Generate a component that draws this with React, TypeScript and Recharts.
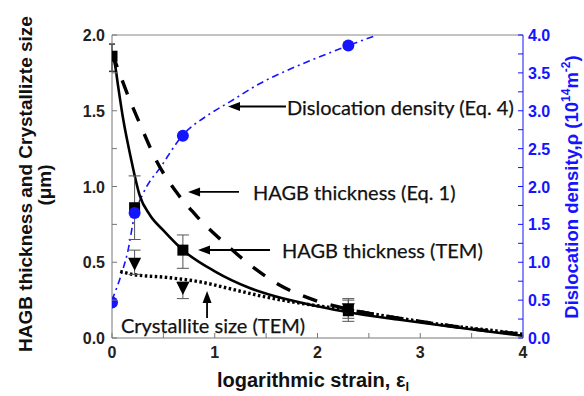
import React from 'react';
import {
  ComposedChart, Line, Scatter, XAxis, YAxis, ErrorBar, ReferenceLine,
} from 'recharts';

// ---- data ----
const fitX = [0, 0.03, 0.06, 0.11, 0.18, 0.27, 0.37, 0.5, 0.69, 1.0, 1.34, 1.67, 2.0, 2.3, 2.8, 3.3, 3.7, 4.0];
const fitY = [1.88, 1.8, 1.66, 1.44, 1.2, 0.94, 0.81, 0.71, 0.58, 0.44, 0.33, 0.26, 0.21, 0.17, 0.12, 0.075, 0.04, 0.015];

const eq1X = [0, 0.05, 0.15, 0.28, 0.44, 0.63, 0.83, 1.09, 1.33, 1.63, 1.97, 2.3, 2.7, 3.1, 3.5, 4.0];
const eq1Y = [1.88, 1.79, 1.61, 1.4, 1.16, 0.96, 0.8, 0.63, 0.49, 0.35, 0.25, 0.19, 0.14, 0.1, 0.06, 0.025];

const crysX = [0.08, 0.2, 0.53, 0.86, 1.18, 1.5, 1.83, 2.3, 2.8, 3.3, 3.7, 4.0];
const crysY = [0.44, 0.42, 0.4, 0.37, 0.32, 0.27, 0.23, 0.185, 0.13, 0.08, 0.05, 0.025];

const rhoX = [0, 0.1, 0.15, 0.22, 0.3, 0.48, 0.69, 0.92, 1.15, 1.44, 1.7, 2.0, 2.3, 2.58];
const rhoY = [0.5, 0.88, 1.12, 1.62, 1.9, 2.27, 2.68, 2.93, 3.12, 3.36, 3.53, 3.7, 3.86, 4.0];

const temX = [0, 0.22, 0.69, 2.3];
const temY = [1.86, 0.86, 0.58, 0.18];
const temLow = [1.76, 0.65, 0.46, 0.11];
const temHigh = [1.94, 1.07, 0.68, 0.26];

const triX = [0.22, 0.69, 2.3];
const triY = [0.49, 0.33, 0.19];
const triLow = [0.42, 0.26, 0.13];
const triHigh = [0.58, 0.37, 0.25];

const dotX = [0, 0.22, 0.69, 2.3];
const dotY = [0.47, 1.65, 2.67, 3.86];

const xTicks = [0, 0.5, 1, 1.5, 2, 2.5, 3, 3.5, 4];
const leftTicks = [0, 0.25, 0.5, 0.75, 1, 1.25, 1.5, 1.75, 2];
const rightTicks = [0, 0.25, 0.5, 0.75, 1, 1.25, 1.5, 1.75, 2, 2.25, 2.5, 2.75, 3, 3.25, 3.5, 3.75, 4];

// annotations: [tipX, tipY, tailX, tailY, text, placement, gap]
const notes: [number, number, number, number, string, string, number][] = [
  [1.129, 1.528, 1.693, 1.528, 'Dislocation density (Eq. 4)', 'right', 1],
  [0.74, 0.964, 1.236, 0.964, 'HAGB thickness (Eq. 1)', 'right', 14],
  [0.837, 0.581, 1.538, 0.581, 'HAGB thickness (TEM)', 'right', 12],
  [0.925, 0.31, 0.925, 0.132, 'Crystallite size (TEM)', 'below', 0],
];

const zip = (xs: number[], ys: number[]) => xs.map((x, i) => ({ x, y: ys[i] }));
const fitData = zip(fitX, fitY);
const eq1Data = zip(eq1X, eq1Y);
const crysData = zip(crysX, crysY);
const rhoData = zip(rhoX, rhoY);
const temData = temX.map((x, i) => ({ x, y: temY[i], err: [temY[i] - temLow[i], temHigh[i] - temY[i]] }));
const triData = triX.map((x, i) => ({ x, y: triY[i], err: [triY[i] - triLow[i], triHigh[i] - triY[i]] }));
const dotData = zip(dotX, dotY);

// markers sitting on the left axis are cut by the plot edge in the reference
const onEdge = (d: { x: number }) => d.x <= 0;
const temEdge = temData.filter(onEdge);
const temIn = temData.filter((d) => !onEdge(d));
const dotEdge = dotData.filter(onEdge);
const dotIn = dotData.filter((d) => !onEdge(d));

const TF = 'Liberation Sans, Arial, sans-serif';
const NF = "Lato, 'Open Sans', sans-serif";
const BLUE = '#1414ff';
const AXIS = '#777';

const XTick = (p: any) => {
  const { x, y, payload } = p;
  const v = payload.value;
  return (
    <g>
      <line x1={x} x2={x} y1={y} y2={y - 5} stroke={AXIS} />
      {Number.isInteger(v) && (
        <text x={x} y={y + 20} textAnchor="middle" fontFamily={TF} fontWeight="bold" fontSize={16} fill="#222">{v}</text>
      )}
    </g>
  );
};
const LTick = (p: any) => {
  const { x, y, payload } = p;
  const v = payload.value;
  const major = Math.abs(v * 2 - Math.round(v * 2)) < 1e-6;
  return (
    <g>
      <line x1={x} x2={x + 5} y1={y} y2={y} stroke={AXIS} />
      {major && (
        <text x={x - 7} y={y + 6} textAnchor="end" fontFamily={TF} fontWeight="bold" fontSize={16} fill="#222">{v.toFixed(1)}</text>
      )}
    </g>
  );
};
const RTick = (p: any) => {
  const { x, y, payload } = p;
  const v = payload.value;
  const major = Math.abs(v * 2 - Math.round(v * 2)) < 1e-6;
  return (
    <g>
      <line x1={x} x2={x - 5} y1={y} y2={y} stroke={BLUE} />
      {major && (
        <text x={x + 5} y={y + 6} textAnchor="start" fontFamily={TF} fontWeight="bold" fontSize={16} fill={BLUE}>{v.toFixed(1)}</text>
      )}
    </g>
  );
};

const Square = (p: any) => <rect x={p.cx - 5.5} y={p.cy - 5.5} width={11} height={11} fill="#000" />;
const HalfSquare = (p: any) => <rect x={p.cx} y={p.cy - 5.5} width={5.5} height={11} fill="#000" />;
const TriDown = (p: any) => (
  <polygon points={`${p.cx - 6.5},${p.cy - 6} ${p.cx + 6.5},${p.cy - 6} ${p.cx},${p.cy + 7}`} fill="#000" />
);
const Dot = (p: any) => <circle cx={p.cx} cy={p.cy} r={6} fill={BLUE} />;
const HalfDot = (p: any) => <path d={`M${p.cx},${p.cy - 6} A6,6 0 0 1 ${p.cx},${p.cy + 6} Z`} fill={BLUE} />;

const arrowShape = (text: string, mode: string, gap: number) => (p: any) => {
  const { x1, y1, x2, y2 } = p;
  const dx = x1 - x2;
  const dy = y1 - y2;
  const len = Math.sqrt(dx * dx + dy * dy) || 1;
  const ux = dx / len;
  const uy = dy / len;
  const hl = 12;
  const hw = 4.5;
  const bx = x1 - ux * hl;
  const by = y1 - uy * hl;
  const tx = mode === 'below' ? x2 + 6 : x2 + gap;
  const ty = mode === 'below' ? y2 + 15 : y2 + 8.5;
  return (
    <g>
      <line x1={x2} y1={y2} x2={bx} y2={by} stroke="#000" strokeWidth={1.8} />
      <polygon points={`${x1},${y1} ${bx - uy * hw},${by + ux * hw} ${bx + uy * hw},${by - ux * hw}`} fill="#000" />
      <text x={tx} y={ty} textAnchor={mode === 'below' ? 'middle' : 'start'} fontFamily={NF} fontSize={20} fill="#111" stroke="#111" strokeWidth={0.25}>{text}</text>
    </g>
  );
};

export default function App() {
  return (
    <div style={{ position: 'absolute', left: 0, top: 0, width: 584, height: 396, background: '#fff', overflow: 'hidden' }}>
      <ComposedChart width={584} height={396} margin={{ top: 35, right: 0, bottom: 0, left: 0 }}>
        <XAxis dataKey="x" type="number" domain={[0, 4]} ticks={xTicks} allowDataOverflow
          height={58} tickSize={0} tickMargin={0} tickLine={false} tick={<XTick />} axisLine={{ stroke: AXIS }} interval={0} />
        <YAxis yAxisId="left" dataKey="y" type="number" domain={[0, 2]} ticks={leftTicks} allowDataOverflow
          width={112} tickSize={0} tickMargin={0} tickLine={false} tick={<LTick />} axisLine={{ stroke: AXIS }} interval={0} />
        <YAxis yAxisId="right" orientation="right" dataKey="y" type="number" domain={[0, 4]} ticks={rightTicks} allowDataOverflow
          width={61} tickSize={0} tickMargin={0} tickLine={false} tick={<RTick />} axisLine={{ stroke: BLUE }} interval={0} />
        <ReferenceLine yAxisId="left" y={2} stroke="#888" />

        <Line yAxisId="right" data={rhoData} dataKey="y" type="monotone" stroke={BLUE} strokeWidth={1.6}
          strokeDasharray="7 4 2 4" dot={false} isAnimationActive={false} />
        <Line yAxisId="left" data={eq1Data} dataKey="y" type="monotone" stroke="#000" strokeWidth={3.4}
          strokeDasharray="15 14" dot={false} isAnimationActive={false} />
        <Line yAxisId="left" data={crysData} dataKey="y" type="monotone" stroke="#000" strokeWidth={3.4}
          strokeDasharray="2.5 2.5" dot={false} isAnimationActive={false} />
        <Line yAxisId="left" data={fitData} dataKey="y" type="monotone" stroke="#000" strokeWidth={2.6}
          dot={false} isAnimationActive={false} />

        <Scatter yAxisId="left" data={temIn} dataKey="y" shape={Square} isAnimationActive={false}>
          <ErrorBar dataKey="err" direction="y" width={6} stroke="#555" strokeWidth={1} isAnimationActive={false} />
        </Scatter>
        <Scatter yAxisId="left" data={temEdge} dataKey="y" shape={HalfSquare} isAnimationActive={false}>
          <ErrorBar dataKey="err" direction="y" width={3} stroke="#333" strokeWidth={1.5} isAnimationActive={false} />
        </Scatter>
        <Scatter yAxisId="left" data={triData} dataKey="y" shape={TriDown} isAnimationActive={false}>
          <ErrorBar dataKey="err" direction="y" width={6} stroke="#555" strokeWidth={1} isAnimationActive={false} />
        </Scatter>
        <Scatter yAxisId="right" data={dotIn} dataKey="y" shape={Dot} isAnimationActive={false} />
        <Scatter yAxisId="right" data={dotEdge} dataKey="y" shape={HalfDot} isAnimationActive={false} />

        {notes.map((n, i) => (
          <ReferenceLine key={i} yAxisId="left" segment={[{ x: n[0], y: n[1] }, { x: n[2], y: n[3] }]}
            shape={arrowShape(n[4], n[5], n[6])} ifOverflow="visible" />
        ))}
      </ComposedChart>
      <svg width={584} height={396} style={{ position: 'absolute', left: 0, top: 0, pointerEvents: 'none' }}>
        <text transform="translate(32,184) rotate(-90)" textAnchor="middle" fontFamily={TF} fontWeight="bold" fontSize={19} fill="#111">
          HAGB thickness and Crystallizte size
        </text>
        <text transform="translate(51,185) rotate(-90)" textAnchor="middle" fontFamily={TF} fontWeight="bold" fontSize={19} fill="#111">
          (μm)
        </text>
        <text x={217} y={387} fontFamily={TF} fontWeight="bold" fontSize={20} fill="#111">
          logarithmic strain, ε<tspan fontSize={13} dy={4}>l</tspan>
        </text>
        <text transform="translate(578,187) rotate(-90)" textAnchor="middle" fontFamily={TF} fontWeight="bold" fontSize={18.5} fill={BLUE}>
          Dislocation density,ρ (10<tspan fontSize={12} dy={-8}>14</tspan><tspan dy={8}>m</tspan><tspan fontSize={12} dy={-8}>-2</tspan><tspan dy={8}>)</tspan>
        </text>
      </svg>
    </div>
  );
}
